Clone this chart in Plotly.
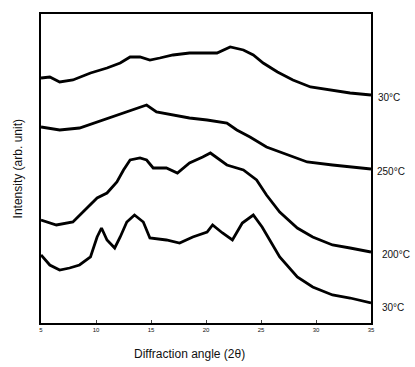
import plotly.graph_objects as go

# Diffraction angle (2θ) and intensity (arb. unit) for each trace
x_30_top = [5.0, 5.8, 6.7, 7.9, 9.5, 11.0, 12.2, 13.1, 14.0, 14.9, 15.8, 17.0, 18.5, 20.1, 21.0,
            22.2, 23.4, 24.3, 25.2, 26.5, 27.9, 29.5, 31.5, 33.1, 35.0]
y_30_top = [245, 246, 241, 243, 250, 255, 260, 266, 266, 263, 265, 268, 270, 270, 270,
            276, 273, 268, 260, 251, 243, 236, 233, 230, 228]

x_250 = [5.0, 6.7, 8.5, 10.1, 11.5, 12.8, 14.0, 14.6, 15.5, 17.0, 18.5, 20.1, 21.9, 22.8,
         24.0, 25.5, 27.4, 29.2, 31.5, 35.0]
y_250 = [196, 193, 195, 201, 206, 211, 215, 218, 211, 208, 205, 203, 200, 193,
         186, 176, 168, 161, 158, 154]

x_200 = [5.0, 6.4, 7.9, 8.8, 10.1, 11.0, 11.9, 12.5, 13.1, 14.0, 14.6, 15.2, 16.4, 17.4,
         18.5, 19.7, 20.4, 21.9, 23.4, 24.6, 25.5, 26.7, 28.3, 29.7, 31.5, 33.1, 35.0]
y_200 = [103, 98, 101, 111, 125, 130, 141, 153, 163, 165, 163, 155, 155, 150,
         160, 166, 170, 158, 153, 143, 128, 111, 95, 86, 78, 75, 71]

x_30_bot = [5.0, 5.8, 6.7, 7.6, 8.5, 9.5, 10.1, 10.5, 11.0, 11.7, 12.2, 12.8, 13.5, 14.3,
            14.9, 16.4, 17.6, 18.8, 20.1, 20.6, 21.5, 22.4, 23.3, 24.3, 25.1, 25.8, 26.7,
            28.3, 29.7, 31.5, 33.1, 35.0]
y_30_bot = [68, 58, 53, 55, 58, 66, 86, 95, 83, 75, 86, 101, 108, 101,
            85, 83, 80, 86, 91, 98, 90, 83, 100, 108, 96, 83, 66,
            46, 36, 28, 25, 20]

labels = ["30°C", "250°C", "200°C", "30°C"]
label_y = [226, 152, 69, 16]
label_shift = [5, 4, 9, 9]

tick_vals = [5, 10, 15, 20, 25, 30, 35]

fig = go.Figure()
for xs, ys in [(x_30_top, y_30_top), (x_250, y_250), (x_200, y_200), (x_30_bot, y_30_bot)]:
    fig.add_trace(go.Scatter(x=xs, y=ys, mode="lines",
                             line=dict(color="#000000", width=2.8), showlegend=False))

for t, yv, sh in zip(labels, label_y, label_shift):
    fig.add_annotation(x=1, xref="paper", y=yv, yref="y", text=t, showarrow=False,
                       xanchor="left", xshift=sh,
                       font=dict(family="Liberation Sans, Arial", size=10, color="#111"))

fig.add_annotation(x=0.45, xref="paper", y=-0.1, yref="paper", yanchor="middle",
                   text="Diffraction angle (2θ)", showarrow=False,
                   font=dict(family="Liberation Sans, Arial", size=12, color="#111"))
fig.add_annotation(x=-0.07, xref="paper", y=0.5, yref="paper", textangle=-90,
                   xanchor="center", text="Intensity (arb. unit)", showarrow=False,
                   font=dict(family="Liberation Sans, Arial", size=12, color="#111"))

fig.update_layout(
    width=415, height=367,
    margin=dict(l=41, r=44, t=14, b=44),
    paper_bgcolor="white", plot_bgcolor="white",
    xaxis=dict(range=[5, 35], tickvals=tick_vals, ticks="inside", ticklen=3,
               tickfont=dict(family="Liberation Sans, Arial", size=6, color="#111"),
               showgrid=False, zeroline=False, showline=True, linecolor="#000",
               linewidth=2, mirror=True),
    yaxis=dict(range=[0, 309], showticklabels=False, ticks="", showgrid=False,
               zeroline=False, showline=True, linecolor="#000", linewidth=2, mirror=True),
)

fig.write_html("out.html", config={"displayModeBar": False},
               post_script="document.body.style.margin='0px';document.body.style.overflow='hidden';")
